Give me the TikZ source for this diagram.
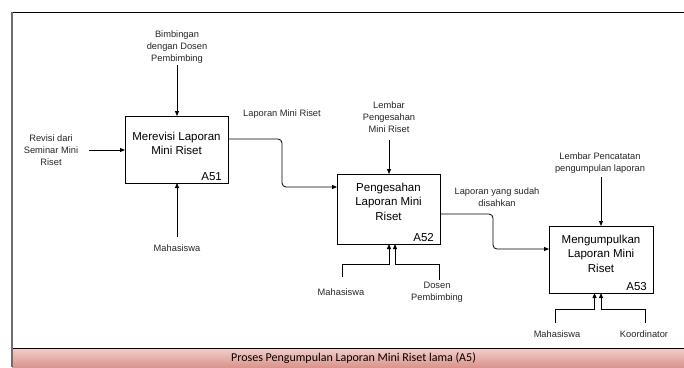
\documentclass[tikz,border=0pt]{standalone}
\usepackage{fontspec}
\setmainfont{Liberation Sans}
\newfontfamily\titlefont{Carlito}
\usetikzlibrary{arrows.meta}
\definecolor{bandtop}{HTML}{F3CEC9}
\definecolor{bandbot}{HTML}{D9958E}
\definecolor{framegray}{HTML}{6E6E6E}
\begin{document}
\begin{tikzpicture}[x=1pt,y=-1pt,
  box/.style={draw,line width=1pt,inner sep=0pt,outer sep=0pt},
  boxtext/.style={font=\fontsize{11.5}{14.5}\selectfont,align=center,inner sep=0pt},
  idtext/.style={font=\fontsize{11.5}{14}\selectfont,inner sep=0pt,anchor=base east},
  lbl/.style={font=\fontsize{9.3}{11.8}\selectfont,align=center,inner sep=0pt,text=black!85},
  arr/.style={-{Triangle[length=5pt,width=4pt]},line width=0.8pt},
]
\useasboundingbox (0,0) rectangle (684,367);
\fill[white] (0,0) rectangle (684,367);
% frame and title band
\shade[top color=bandtop,bottom color=bandbot] (12,348) rectangle (684,367);
\draw[line width=1pt] (12,12) -- (684,12);
\draw[line width=1pt] (12,348) -- (684,348);
\draw[framegray,line width=1.6pt] (12,12) -- (12,367);
\node[font=\titlefont\fontsize{12}{14}\selectfont,inner sep=0pt] (title) at (353.5,358) {Proses Pengumpulan Laporan Mini Riset lama (A5)};

% boxes
\node[box,minimum width=103pt,minimum height=67pt] (a51) at (176.5,149.5) {};
\node[boxtext] (a51t) at (176.5,143.5) {Merevisi Laporan\\Mini Riset};
\node[idtext] (a51id) at ([shift={(-6pt,2.5pt)}]a51.south east) {A51};

\node[box,minimum width=103pt,minimum height=70pt] (a52) at (388.5,209) {};
\node[boxtext] (a52t) at (388.5,201.5) {Pengesahan\\Laporan Mini\\Riset};
\node[idtext] (a52id) at ([shift={(-6pt,2.5pt)}]a52.south east) {A52};

\node[box,minimum width=104pt,minimum height=67pt] (a53) at (601,259.5) {};
\node[boxtext] (a53t) at (601,253.5) {Mengumpulkan\\Laporan Mini\\Riset};
\node[idtext] (a53id) at ([shift={(-6pt,2.5pt)}]a53.south east) {A53};

% labels
\node[lbl] (l51t) at (177,47) {Bimbingan\\dengan Dosen\\Pembimbing};
\node[lbl] (l51l) at (51,150) {Revisi dari\\Seminar Mini\\Riset};
\node[lbl] (l51b) at (177,248) {Mahasiswa};
\node[lbl] (l512) at (282,114) {Laporan Mini Riset};
\node[lbl] (l52t) at (389,117) {Lembar\\Pengesahan\\Mini Riset};
\node[lbl] (l52m) at (341,292) {Mahasiswa};
\node[lbl] (l52d) at (437,292.5) {Dosen\\Pembimbing};
\node[lbl] (l523) at (497,197.5) {Laporan yang sudah\\disahkan};
\node[lbl] (l53t) at (600,163) {Lembar Pencatatan\\pengumpulan laporan};
\node[lbl] (l53m) at (557,334) {Mahasiswa};
\node[lbl] (l53k) at (644,334.5) {Koordinator};

% connector end points
\coordinate (c51t) at (177,65);
\coordinate (c51l) at (89,150);
\coordinate (c51b) at (177,237);
\coordinate (c52t) at (389,140);
\coordinate (m52a) at (342,277);
\coordinate (m52b) at (439,280);
\coordinate (c53t) at (601,177);
\coordinate (m53a) at (555,323);
\coordinate (m53b) at (645,323);

% A51
\draw[arr] (c51t) -- (c51t |- a51.north);
\draw[arr] (c51l) -- (c51l -| a51.west);
\draw[arr] (c51b) -- (c51b |- a51.south);
\draw[arr,rounded corners=4pt] (a51.east |- 0,139) -| (282,187) -- (a52.west |- 0,187);
% A52
\draw[arr] (c52t) -- (c52t |- a52.north);
\draw[arr] (m52a) -- ++(0,-13) -| (a52.south -| 389,0);
\draw[arr] (m52b) -- ++(0,-16) -| (a52.south -| 395,0);
\draw[arr,rounded corners=4pt] (a52.east |- 0,214) -| (493,249) -- (a53.west |- 0,249);
% A53
\draw[arr] (c53t) -- (c53t |- a53.north);
\draw[arr] (m53a) -- ++(0,-14) -| (a53.south -| 594.5,0);
\draw[arr] (m53b) -- ++(0,-14) -| (a53.south -| 601,0);
\end{tikzpicture}
\end{document}
